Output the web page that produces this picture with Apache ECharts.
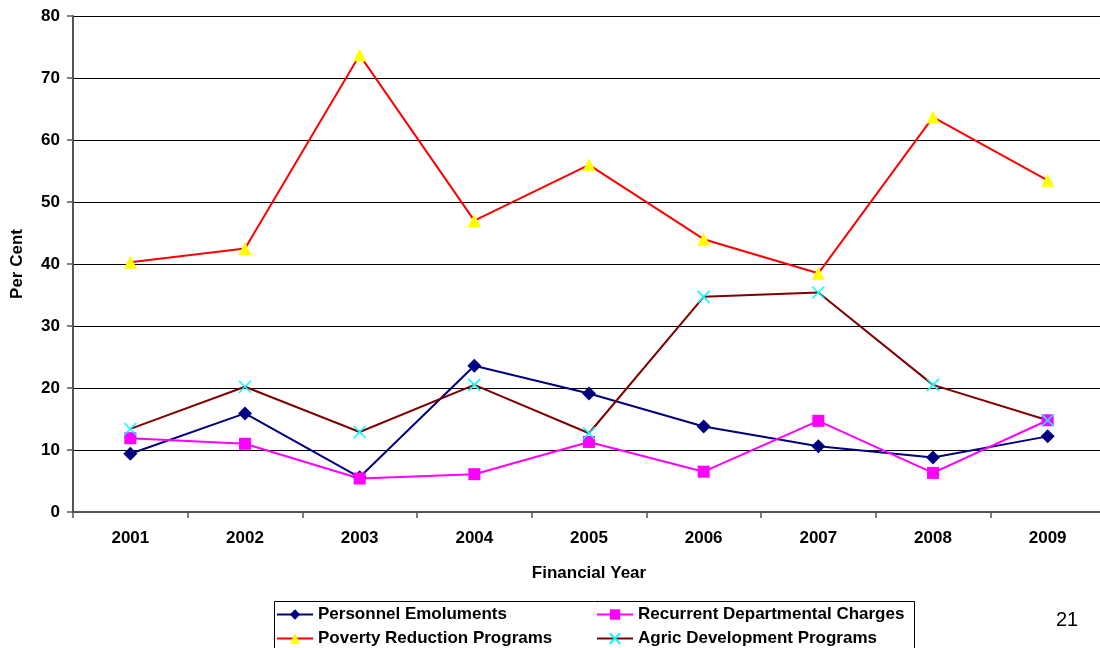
<!DOCTYPE html>
<html>
<head>
<meta charset="utf-8">
<script src="https://cdn.jsdelivr.net/npm/echarts@6/dist/echarts.min.js"></script>
<style>
  html, body { margin: 0; padding: 0; background: #fff; overflow: hidden; }
  #chart { width: 1100px; height: 648px; }
</style>
</head>
<body>
<div id="chart"></div>
<script>
const years = ['2001', '2002', '2003', '2004', '2005', '2006', '2007', '2008', '2009']
const yTicks = [0, 80, 10] // min, max, interval

const personnelEmoluments = [9.4, 15.9, 5.6, 23.6, 19.1, 13.8, 10.6, 8.8, 12.2]
const recurrentCharges = [11.9, 11.0, 5.4, 6.1, 11.3, 6.5, 14.7, 6.3, 14.8]
const povertyReduction = [40.3, 42.5, 73.7, 47.0, 56.0, 44.0, 38.5, 63.7, 53.5]
const agricDevelopment = [13.4, 20.2, 12.9, 20.5, 12.7, 34.7, 35.4, 20.5, 14.8]

const font = 'Liberation Sans, Arial, sans-serif'
const crossPath = 'path://M0,0L10,10M0,10L10,0'
const boldText = { fontFamily: font, fontWeight: 'bold', fontSize: 17, color: '#000' }

// one legend per item so the two columns line up like the original
const legendSlot = (name, left, top) => ({
    left: left,
    top: top,
    itemWidth: 36,
    itemHeight: 13,
    padding: 0,
    textStyle: { fontFamily: font, fontWeight: 'bold', fontSize: 17, color: '#000' },
    data: [name]
})

let chart = echarts.init(document.getElementById('chart'))

let options = {
    animation: false,
    textStyle: { fontFamily: font },
    grid: {
        left: 73,
        top: 16,
        width: 1032,
        height: 496,
        outerBoundsMode: 'none'
    },
    legend: [
        legendSlot('Personnel Emoluments', 276, 606),
        legendSlot('Poverty Reduction Programs', 276, 630),
        legendSlot('Recurrent Departmental Charges', 596, 606),
        legendSlot('Agric Development Programs', 596, 630)
    ],
    graphic: [
        {
            type: 'rect',
            left: 272,
            top: 599,
            shape: { width: 640, height: 60 },
            style: { fill: 'none', stroke: '#000', lineWidth: 1 }
        },
        {
            type: 'text',
            left: 1056,
            top: 610,
            style: { text: '21', font: '20px ' + font, fill: '#000' }
        }
    ],
    xAxis: {
        type: 'category',
        data: years,
        boundaryGap: true,
        name: 'Financial Year',
        nameLocation: 'middle',
        nameGap: 53,
        nameTextStyle: boldText,
        axisLine: { lineStyle: { color: '#555', width: 2 } },
        axisTick: { show: true, interval: 0, length: 6, lineStyle: { color: '#555', width: 1.5 } },
        axisLabel: Object.assign({ margin: 18 }, boldText),
        splitLine: { show: false }
    },
    yAxis: {
        type: 'value',
        min: yTicks[0],
        max: yTicks[1],
        interval: yTicks[2],
        name: 'Per Cent',
        nameLocation: 'middle',
        nameGap: 47,
        nameRotate: 90,
        nameTextStyle: boldText,
        axisLine: { show: true, lineStyle: { color: '#555', width: 2 } },
        axisTick: { show: true, length: 6, lineStyle: { color: '#555', width: 1.5 } },
        axisLabel: Object.assign({ margin: 13 }, boldText),
        splitLine: { show: true, lineStyle: { color: '#000', width: 1 } }
    },
    series: [
        {
            name: 'Personnel Emoluments',
            type: 'line',
            data: personnelEmoluments,
            symbol: 'diamond',
            symbolSize: 14,
            lineStyle: { color: '#000080', width: 2 },
            itemStyle: { color: '#000080', borderWidth: 0 }
        },
        {
            name: 'Recurrent Departmental Charges',
            type: 'line',
            data: recurrentCharges,
            symbol: 'rect',
            symbolSize: 12,
            lineStyle: { color: '#ff00ff', width: 2 },
            itemStyle: { color: '#ff00ff', borderWidth: 0 }
        },
        {
            name: 'Poverty Reduction Programs',
            type: 'line',
            data: povertyReduction,
            symbol: 'triangle',
            symbolSize: 13,
            lineStyle: { color: '#ff0000', width: 2 },
            itemStyle: { color: '#ffff00', borderWidth: 0 }
        },
        {
            name: 'Agric Development Programs',
            type: 'line',
            data: agricDevelopment,
            symbol: crossPath,
            symbolSize: 12,
            lineStyle: { color: '#800000', width: 2 },
            itemStyle: { color: '#00ffff', borderColor: '#00ffff', borderWidth: 1.5 }
        }
    ]
}

chart.setOption(options)
window.addEventListener('resize', () => { chart.resize() })
</script>
</body>
</html>
